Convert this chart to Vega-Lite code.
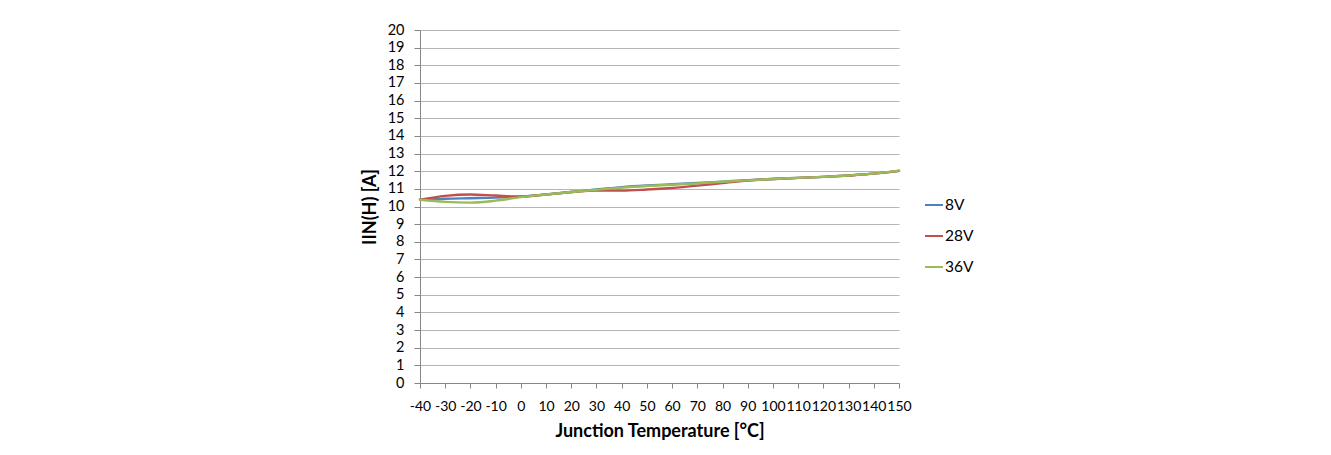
{
  "$schema": "https://vega.github.io/schema/vega-lite/v6.json",
  "width": 479,
  "height": 353,
  "autosize": {"type": "none"},
  "padding": {"left": 420, "top": 30, "right": 432, "bottom": 72},
  "background": "white",
  "config": {
    "font": "Lato",
    "view": {"stroke": null},
    "axis": {"labelFont": "Lato", "titleFont": "Lato", "labelColor": "#000000", "titleColor": "#000000", "domainColor": "#868686", "tickColor": "#868686"}
  },
  "data": {
    "values": [
      {"t": -40, "s": "8V", "v": 10.38}, {"t": -30, "s": "8V", "v": 10.44}, {"t": -20, "s": "8V", "v": 10.47}, {"t": -10, "s": "8V", "v": 10.5}, {"t": 0, "s": "8V", "v": 10.56}, {"t": 10, "s": "8V", "v": 10.68}, {"t": 20, "s": "8V", "v": 10.82}, {"t": 30, "s": "8V", "v": 10.97}, {"t": 40, "s": "8V", "v": 11.1}, {"t": 50, "s": "8V", "v": 11.19}, {"t": 60, "s": "8V", "v": 11.26}, {"t": 70, "s": "8V", "v": 11.33}, {"t": 80, "s": "8V", "v": 11.41}, {"t": 90, "s": "8V", "v": 11.49}, {"t": 100, "s": "8V", "v": 11.56}, {"t": 110, "s": "8V", "v": 11.62}, {"t": 120, "s": "8V", "v": 11.68}, {"t": 130, "s": "8V", "v": 11.76}, {"t": 140, "s": "8V", "v": 11.86}, {"t": 150, "s": "8V", "v": 12.02},
      {"t": -40, "s": "28V", "v": 10.38}, {"t": -30, "s": "28V", "v": 10.6}, {"t": -20, "s": "28V", "v": 10.68}, {"t": -10, "s": "28V", "v": 10.62}, {"t": 0, "s": "28V", "v": 10.57}, {"t": 10, "s": "28V", "v": 10.68}, {"t": 20, "s": "28V", "v": 10.82}, {"t": 30, "s": "28V", "v": 10.9}, {"t": 40, "s": "28V", "v": 10.9}, {"t": 50, "s": "28V", "v": 10.96}, {"t": 60, "s": "28V", "v": 11.05}, {"t": 70, "s": "28V", "v": 11.18}, {"t": 80, "s": "28V", "v": 11.33}, {"t": 90, "s": "28V", "v": 11.47}, {"t": 100, "s": "28V", "v": 11.56}, {"t": 110, "s": "28V", "v": 11.62}, {"t": 120, "s": "28V", "v": 11.68}, {"t": 130, "s": "28V", "v": 11.76}, {"t": 140, "s": "28V", "v": 11.86}, {"t": 150, "s": "28V", "v": 12.02},
      {"t": -40, "s": "36V", "v": 10.38}, {"t": -30, "s": "36V", "v": 10.26}, {"t": -20, "s": "36V", "v": 10.22}, {"t": -10, "s": "36V", "v": 10.33}, {"t": 0, "s": "36V", "v": 10.53}, {"t": 10, "s": "36V", "v": 10.68}, {"t": 20, "s": "36V", "v": 10.82}, {"t": 30, "s": "36V", "v": 10.95}, {"t": 40, "s": "36V", "v": 11.07}, {"t": 50, "s": "36V", "v": 11.16}, {"t": 60, "s": "36V", "v": 11.23}, {"t": 70, "s": "36V", "v": 11.31}, {"t": 80, "s": "36V", "v": 11.4}, {"t": 90, "s": "36V", "v": 11.48}, {"t": 100, "s": "36V", "v": 11.56}, {"t": 110, "s": "36V", "v": 11.62}, {"t": 120, "s": "36V", "v": 11.68}, {"t": 130, "s": "36V", "v": 11.76}, {"t": 140, "s": "36V", "v": 11.86}, {"t": 150, "s": "36V", "v": 12.03}
    ]
  },
  "mark": {"type": "line", "interpolate": "monotone", "strokeWidth": 2.4, "strokeCap": "round"},
  "encoding": {
    "x": {
      "field": "t", "type": "quantitative",
      "scale": {"domain": [-40, 150], "nice": false, "zero": false},
      "axis": {
        "values": [-40, -30, -20, -10, 0, 10, 20, 30, 40, 50, 60, 70, 80, 90, 100, 110, 120, 130, 140, 150],
        "labelExpr": "toString(datum.value)",
        "grid": false, "tickSize": 5, "labelFontSize": 14, "labelPadding": 11, "labelOverlap": false, "labelFlush": false, "labelBound": false,
        "title": "Junction Temperature [°C]", "titleFontSize": 18, "titleFontWeight": "bold", "titlePadding": 9
      }
    },
    "y": {
      "field": "v", "type": "quantitative",
      "scale": {"domain": [0, 20], "nice": false},
      "axis": {
        "values": [0, 1, 2, 3, 4, 5, 6, 7, 8, 9, 10, 11, 12, 13, 14, 15, 16, 17, 18, 19, 20],
        "grid": true, "gridColor": "#b5b5b5", "gridWidth": 1, "tickSize": 6, "labelFontSize": 14.5, "labelPadding": 10, "labelOverlap": false, "labelFlush": false, "labelBound": false,
        "title": "IIN(H) [A]", "titleFontSize": 18, "titleFontWeight": "bold", "titlePadding": 8
      }
    },
    "color": {
      "field": "s", "type": "nominal",
      "scale": {"domain": ["8V", "28V", "36V"], "range": ["#4F81BD", "#C0504D", "#9BBB59"]},
      "legend": {
        "title": null, "orient": "none", "legendX": 504, "legendY": 165,
        "symbolType": "stroke", "symbolSize": 324, "symbolStrokeWidth": 2, "labelFontSize": 15.5, "labelFont": "Lato", "labelColor": "#000000",
        "labelOffset": 1, "rowPadding": 12, "padding": 0
      }
    }
  }
}
